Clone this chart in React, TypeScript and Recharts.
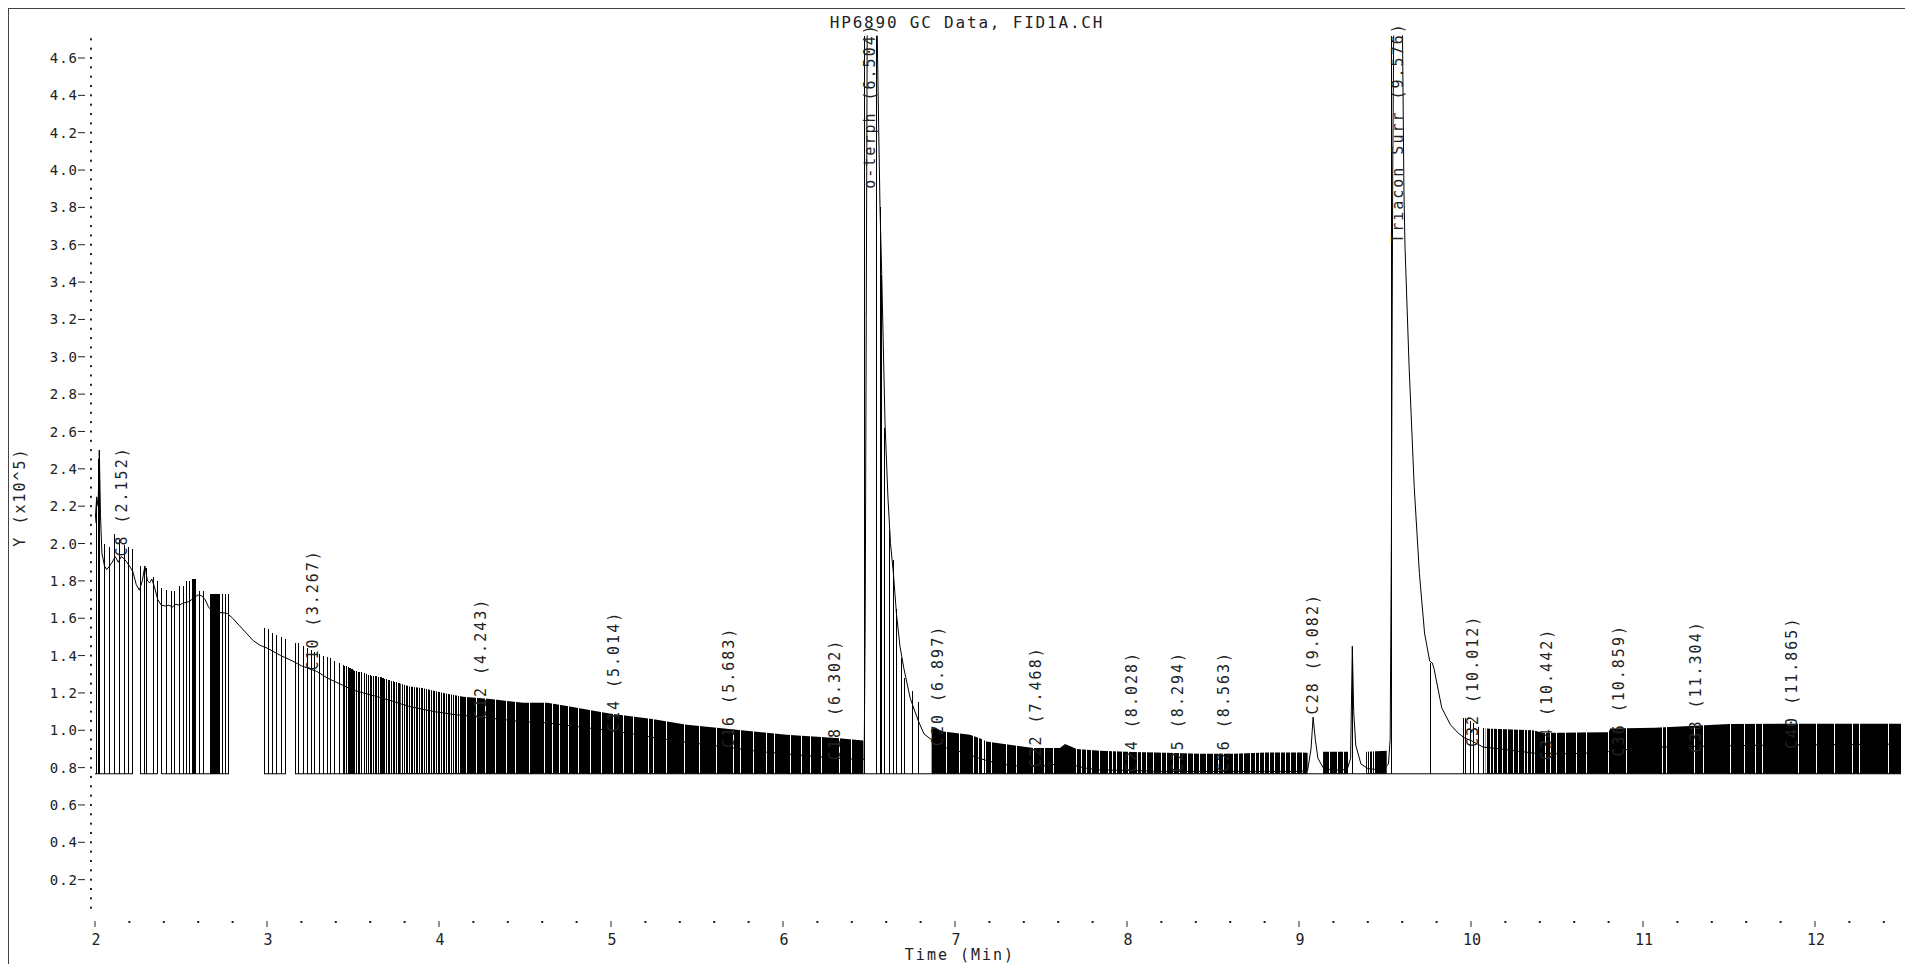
import React from 'react'
import { ComposedChart, XAxis, YAxis, Line, Area, ReferenceLine, ReferenceDot } from 'recharts'

const FONT = '"DejaVu Sans Mono", "Liberation Mono", monospace'
const INK = '#222'
const BASE = 0.767
const SLIT_TOP = 1.6

// detector trace (time in min, signal x10^5)
const TRACE_T = [
    2.0, 2.01, 2.018, 2.025, 2.032, 2.04, 2.055, 2.068, 2.085, 2.1, 2.118, 2.135, 2.152, 2.168, 2.185, 2.2, 2.22, 2.24,
    2.258, 2.275, 2.29, 2.305, 2.318, 2.33, 2.345, 2.365, 2.385, 2.41, 2.43, 2.45, 2.47, 2.49, 2.51, 2.53, 2.55, 2.575,
    2.6, 2.62, 2.64, 2.66, 2.68, 2.7, 2.74, 2.77, 2.8, 2.84, 2.88, 2.92, 2.96, 3.0, 3.08, 3.15, 3.2, 3.29, 3.35, 3.42,
    3.5, 3.56, 3.64, 3.715, 3.83, 3.97, 4.1, 4.2, 4.3, 4.47, 4.63, 4.8, 4.955, 5.1, 5.21, 5.33, 5.44, 5.58, 5.71, 5.83,
    5.94, 6.06, 6.18, 6.32, 6.46, 6.472, 6.478, 6.484, 6.49, 6.545, 6.555, 6.564, 6.574, 6.593, 6.61, 6.625, 6.641, 6.66,
    6.68, 6.703, 6.74, 6.787, 6.82, 6.87, 6.95, 7.05, 7.14, 7.24, 7.34, 7.43, 7.53, 7.61, 7.64, 7.68, 7.76, 7.84, 8.0,
    8.2, 8.5, 8.8, 9.0, 9.05, 9.07, 9.082, 9.095, 9.11, 9.14, 9.2, 9.28, 9.3, 9.31, 9.318, 9.33, 9.36, 9.4, 9.45, 9.5,
    9.52, 9.53, 9.537, 9.545, 9.552, 9.6, 9.61, 9.616, 9.64, 9.67, 9.7, 9.73, 9.76, 9.775, 9.785, 9.83, 9.88, 9.92, 9.96,
    10.0, 10.07, 10.17, 10.3, 10.38, 10.5, 10.65, 10.8, 10.88, 11.1, 11.24, 11.5, 11.73, 12.0, 12.3, 12.5,
]
const TRACE_V = [
    2.11, 2.25, 2.2, 2.5, 2.15, 1.95, 1.88, 1.86, 1.88, 1.9, 1.93, 1.9, 1.93, 1.92, 1.9, 1.88, 1.85, 1.78,
    1.75, 1.8, 1.88, 1.8, 1.79, 1.81, 1.77, 1.7, 1.67, 1.665, 1.67, 1.66, 1.675, 1.67, 1.68, 1.685, 1.69, 1.71,
    1.725, 1.72, 1.7, 1.66, 1.64, 1.63, 1.63, 1.625, 1.6, 1.56, 1.52, 1.48, 1.455, 1.44, 1.4, 1.37, 1.345, 1.315, 1.28, 1.25,
    1.215, 1.2, 1.18, 1.16, 1.127, 1.1, 1.083, 1.075, 1.065, 1.047, 1.04, 1.02, 1.003, 0.985, 0.967, 0.95, 0.935, 0.92, 0.905, 0.89,
    0.88, 0.87, 0.86, 0.85, 0.843, 0.845, 1.6, 3.2, 4.9, 4.9, 4.3, 3.8, 3.44, 2.65, 2.25, 2.0, 1.85, 1.62,
    1.45, 1.33, 1.17, 1.05, 0.98, 0.945, 0.905, 0.88, 0.85, 0.824, 0.81, 0.806, 0.81, 0.822, 0.826, 0.815, 0.797, 0.788, 0.785,
    0.78, 0.78, 0.78, 0.78, 0.785, 0.9, 1.07, 0.95, 0.85, 0.8, 0.785, 0.79, 0.85, 1.45, 1.1, 0.92, 0.82, 0.795, 0.79, 0.8,
    0.82, 0.95, 2.0, 4.0, 4.9, 4.9, 3.9, 3.6, 2.95, 2.3, 1.84, 1.52, 1.37, 1.36, 1.33, 1.12, 1.03, 0.99, 0.96,
    0.945, 0.91, 0.9, 0.885, 0.876, 0.874, 0.876, 0.886, 0.895, 0.91, 0.913, 0.917, 0.92, 0.922, 0.925, 0.926,
]

// individual integration drop lines
const DROP_T = [
    2.006, 2.022, 2.026, 2.058, 2.087, 2.116, 2.145, 2.169, 2.194, 2.219,
    2.262, 2.285, 2.3, 2.339, 2.362,
    2.388, 2.417, 2.446, 2.465, 2.494, 2.513, 2.533, 2.552, 2.568, 2.574, 2.58, 2.586, 2.61, 2.63,
    2.669, 2.675, 2.681, 2.687, 2.693, 2.699, 2.705, 2.711, 2.717, 2.723, 2.742, 2.758, 2.779,
    2.983, 3.008, 3.033, 3.056, 3.085, 3.11,
    3.163, 3.182, 3.211, 3.234, 3.258, 3.279, 3.308, 3.327, 3.35, 3.37, 3.395, 3.42,
    3.447, 3.453, 3.462, 3.471, 3.476, 3.48, 3.485, 3.49, 3.495, 3.5, 3.51, 3.521, 3.53, 3.54, 3.55, 3.565, 3.58,
    3.59, 3.599, 3.61, 3.618, 3.628, 3.637, 3.647, 3.657, 3.664, 3.671, 3.679, 3.686,
    3.695, 3.705, 3.714, 3.724, 3.733, 3.744, 3.753, 3.763, 3.77,
    6.473, 6.544, 6.564, 6.574, 6.593, 6.622, 6.641, 6.66, 6.69, 6.709, 6.752, 6.79,
    9.312, 9.537, 9.766,
    9.954, 9.969, 9.996, 10.017, 10.044, 10.073,
]
const DROP_TOP = [
    2.22, 2.45, 2.5, 2.0, 1.98, 2.05, 2.02, 1.99, 1.98, 1.97,
    1.88, 1.87, 1.87, 1.82, 1.8,
    1.76, 1.75, 1.745, 1.745, 1.77, 1.77, 1.8, 1.8, 1.81, 1.81, 1.81, 1.81, 1.745, 1.745,
    1.73, 1.73, 1.73, 1.73, 1.73, 1.73, 1.73, 1.73, 1.73, 1.73, 1.73, 1.73, 1.73,
    1.547, 1.54, 1.52, 1.51, 1.5, 1.49,
    1.467, 1.465, 1.45, 1.44, 1.43, 1.42, 1.41, 1.4, 1.39, 1.385, 1.37, 1.36,
    1.35, 1.345, 1.342, 1.34, 1.338, 1.335, 1.332, 1.33, 1.328, 1.325, 1.32, 1.315, 1.313, 1.312, 1.31, 1.305, 1.3,
    1.298, 1.295, 1.292, 1.29, 1.29, 1.29, 1.287, 1.285, 1.283, 1.28, 1.278, 1.275,
    1.272, 1.27, 1.268, 1.265, 1.263, 1.26, 1.258, 1.255, 1.252,
    4.72, 4.72, 3.8, 3.44, 2.62, 2.07, 1.91, 1.65, 1.385, 1.28, 1.21, 1.15,
    1.44, 4.72, 1.36,
    1.065, 1.065, 1.05, 1.04, 1.02, 1.01,
]

// dense integration zones: envelope of the tick tops
const ZONE1_T = [3.775, 3.83, 3.91, 4.025, 4.14, 4.3, 4.41, 4.49, 4.63, 4.76, 4.99, 5.24, 5.44, 5.63, 5.83, 6.02, 6.31, 6.467]
const ZONE1_TOP = [1.25, 1.235, 1.225, 1.2, 1.18, 1.167, 1.155, 1.148, 1.148, 1.127, 1.09, 1.06, 1.03, 1.012, 0.994, 0.976, 0.958, 0.945]
const ZONE2_T = [6.864, 6.932, 7.087, 7.155, 7.184, 7.223, 7.359, 7.455, 7.61, 7.64, 7.707, 7.843, 8.037, 8.23, 8.424, 8.618, 8.81, 9.006, 9.05]
const ZONE2_TOP = [1.02, 0.994, 0.976, 0.953, 0.94, 0.935, 0.917, 0.905, 0.905, 0.926, 0.899, 0.89, 0.883, 0.879, 0.874, 0.874, 0.881, 0.881, 0.88]
const ZONE3_T = [9.14, 9.285]
const ZONE3_TOP = [0.885, 0.885]
const ZONE4_T = [9.39, 9.51]
const ZONE4_TOP = [0.885, 0.89]
const ZONE5_T = [10.085, 10.36, 10.424, 10.62, 10.8, 10.81, 11.07, 11.36, 11.5, 11.885, 12.5]
const ZONE5_TOP = [1.01, 1.0, 0.985, 0.988, 0.99, 1.01, 1.013, 1.027, 1.033, 1.035, 1.035]

// white gaps between ticks inside the dense zones
const GAP_T = [
    3.78, 3.792, 3.805, 3.822, 3.835, 3.85, 3.865, 3.88, 3.895, 3.91, 3.919, 3.935, 3.948, 3.962, 3.977, 3.99,
    4.006, 4.02, 4.035, 4.05, 4.064, 4.08, 4.093, 4.105, 4.118, 4.16, 4.219, 4.27, 4.326, 4.39, 4.442, 4.529, 4.616,
    4.66, 4.703, 4.752, 4.81, 4.878, 4.946, 5.013, 5.07, 5.13, 5.217, 5.246, 5.323, 5.43, 5.517, 5.614, 5.711, 5.75,
    5.828, 5.905, 5.953, 6.041, 6.108, 6.157, 6.224, 6.331, 6.4,
    6.951, 7.029, 7.107, 7.135, 7.16, 7.168, 7.176, 7.213, 7.3, 7.359, 7.455, 7.52, 7.572, 7.707, 7.735, 7.765, 7.794,
    7.84, 7.891, 7.915, 7.94, 7.975, 8.008, 8.06, 8.085, 8.114, 8.153, 8.2, 8.231, 8.27, 8.308, 8.35, 8.386, 8.42,
    8.463, 8.502, 8.53, 8.56, 8.618, 8.65, 8.676, 8.72, 8.745, 8.773, 8.8, 8.831, 8.86, 8.89, 8.92, 8.948, 8.987, 9.02,
    9.176, 9.226, 9.26, 9.4, 9.412, 9.425, 9.44,
    10.09, 10.115, 10.131, 10.152, 10.184, 10.215, 10.247, 10.278, 10.309, 10.33, 10.351, 10.372, 10.434, 10.465,
    10.497, 10.549, 10.616, 10.674, 10.8, 10.904, 11.113, 11.134, 11.3, 11.353, 11.51, 11.593, 11.656, 11.697,
    11.906, 12.01, 12.114, 12.219, 12.26, 12.428,
]

// integration baseline segments
const BASE_FROM = [2.0, 2.262, 2.388, 2.983, 3.163]
const BASE_TO = [2.219, 2.362, 2.779, 3.11, 12.5]

// peak labels
const PEAK_NAME = ['C8', 'C10', 'C12', 'C14', 'C16', 'C18', 'o-terph', 'C20', 'C22', 'C24', 'C25', 'C26', 'C28', 'Triacon Surr', 'C32', 'C34', 'C36', 'C38', 'C40']
const PEAK_RT = [2.152, 3.267, 4.243, 5.014, 5.683, 6.302, 6.504, 6.897, 7.468, 8.028, 8.294, 8.563, 9.082, 9.576, 10.012, 10.442, 10.859, 11.304, 11.865]
const PEAK_LABEL_Y = [1.93, 1.32, 1.06, 0.99, 0.905, 0.84, 3.9, 0.915, 0.8, 0.775, 0.775, 0.775, 1.085, 3.61, 0.91, 0.84, 0.86, 0.88, 0.9]

const X_MAJOR = [2, 3, 4, 5, 6, 7, 8, 9, 10, 11, 12]
const Y_MAJOR = [0.2, 0.4, 0.6, 0.8, 1.0, 1.2, 1.4, 1.6, 1.8, 2.0, 2.2, 2.4, 2.6, 2.8, 3.0, 3.2, 3.4, 3.6, 3.8, 4.0, 4.2, 4.4, 4.6]

const xTicks: number[] = []
X_MAJOR.forEach(m => [0, 0.2, 0.4, 0.6, 0.8].forEach(d => { if (m + d <= 12.45) xTicks.push(Math.round((m + d) * 10) / 10) }))
const yTicks: number[] = []
for (let i = 1; i <= 94; i++) yTicks.push(Math.round(i * 5) / 100)

const traceRows = TRACE_T.map((t, i) => ({ t, v: TRACE_V[i] }))
const zones = [[ZONE1_T, ZONE1_TOP], [ZONE2_T, ZONE2_TOP], [ZONE3_T, ZONE3_TOP], [ZONE4_T, ZONE4_TOP], [ZONE5_T, ZONE5_TOP]]
    .map(([ts, tops]) => ts.map((t, i) => ({ t, r: [BASE, tops[i]] })))
const baseRows: { t: number, b: number | null }[] = []
BASE_FROM.forEach((f, i) => {
    baseRows.push({ t: f, b: BASE }, { t: BASE_TO[i], b: BASE })
    if (i < BASE_FROM.length - 1) baseRows.push({ t: (BASE_TO[i] + BASE_FROM[i + 1]) / 2, b: null })
})

const XTick = ({ x, y, payload }: any) => {
    const v = payload.value
    const major = X_MAJOR.some(m => Math.abs(m - v) < 1e-6)
    return (
        <g>
            {major
                ? <line x1={x} x2={x} y1={y + 4} y2={y + 10} stroke={INK} />
                : <rect x={x - 1} y={y + 4} width={2} height={2} fill={INK} />}
            {major && <text x={x + 1} y={y + 28} textAnchor="middle" fontFamily={FONT} fontSize={15} fill={INK}>{v}</text>}
        </g>
    )
}

const YTick = ({ x, y, payload }: any) => {
    const v = payload.value
    const major = Y_MAJOR.some(m => Math.abs(m - v) < 1e-6)
    return (
        <g>
            <rect x={x - 5} y={y - 1} width={2} height={2} fill={INK} />
            {major && <line x1={x - 17} x2={x - 10} y1={y} y2={y} stroke={INK} />}
            {major && <text x={x - 17} y={y} dy="0.36em" textAnchor="end" fontFamily={FONT} fontSize={14} letterSpacing={1} fill={INK}>{v.toFixed(1)}</text>}
        </g>
    )
}

const peakLabel = (text: string) => (p: any) => (
    <text x={p.cx} y={p.cy} dy="0.36em" transform={`rotate(-90 ${p.cx} ${p.cy})`} fontFamily={FONT} fontSize={15} letterSpacing={2} fill={INK}>{text}</text>
)

export default function App() {
    return (
        <div style={{ position: 'relative', width: 1901, height: 975, border: '1px solid #444', background: '#fff' }}>
            <style>{'html,body{overflow:hidden}'}</style>
            <svg width={1901} height={975} style={{ position: 'absolute', left: 0, top: 0 }}>
                <text x={958} y={19} textAnchor="middle" fontFamily={FONT} fontSize={16} letterSpacing={1.8} fill={INK}>HP6890 GC Data, FID1A.CH</text>
                <text x={951} y={951} textAnchor="middle" fontFamily={FONT} fontSize={15} letterSpacing={2} fill={INK}>Time (Min)</text>
                <text x={11} y={488} dy="0.36em" textAnchor="middle" transform="rotate(-90 11 488)" fontFamily={FONT} fontSize={15} letterSpacing={2} fill={INK}>Y (x10^5)</text>
            </svg>
            <div style={{ position: 'absolute', left: 0, top: 0 }}>
                <ComposedChart width={1901} height={960} data={traceRows} margin={{ top: 26.6, right: 9, bottom: 0, left: 0 }}>
                    <XAxis dataKey="t" type="number" domain={[2, 12.5]} allowDataOverflow ticks={xTicks} interval={0}
                        axisLine={false} tickLine={false} tickSize={0} tickMargin={0} height={52} tick={XTick} />
                    <YAxis type="number" domain={[0, 4.72]} allowDataOverflow ticks={yTicks} interval={0}
                        axisLine={false} tickLine={false} tickSize={0} tickMargin={0} width={86} tick={YTick} />
                    {zones.map((rows, i) => (
                        <Area key={`z${i}`} data={rows} dataKey="r" type="linear" stroke="none" fill="#000" fillOpacity={1}
                            dot={false} activeDot={false} isAnimationActive={false} />
                    ))}
                    {GAP_T.map((t, i) => (
                        <ReferenceLine key={`g${i}`} segment={[{ x: t, y: BASE + 0.004 }, { x: t, y: SLIT_TOP }]}
                            stroke="#fff" strokeWidth={1} shapeRendering="crispEdges" ifOverflow="hidden" />
                    ))}
                    {DROP_T.map((t, i) => (
                        <ReferenceLine key={`d${i}`} segment={[{ x: t, y: BASE }, { x: t, y: DROP_TOP[i] }]}
                            stroke="#000" strokeWidth={1} shapeRendering="crispEdges" ifOverflow="hidden" />
                    ))}
                    <Line data={baseRows} dataKey="b" type="linear" stroke="#000" strokeWidth={1} dot={false} activeDot={false}
                        connectNulls={false} isAnimationActive={false} />
                    <Line dataKey="v" type="linear" stroke="#000" strokeWidth={1} dot={false} activeDot={false}
                        isAnimationActive={false} />
                    {PEAK_RT.map((rt, i) => (
                        <ReferenceDot key={`p${i}`} x={rt} y={PEAK_LABEL_Y[i]} ifOverflow="visible"
                            shape={peakLabel(`${PEAK_NAME[i]} (${rt.toFixed(3)})`)} />
                    ))}
                </ComposedChart>
            </div>
        </div>
    )
}
